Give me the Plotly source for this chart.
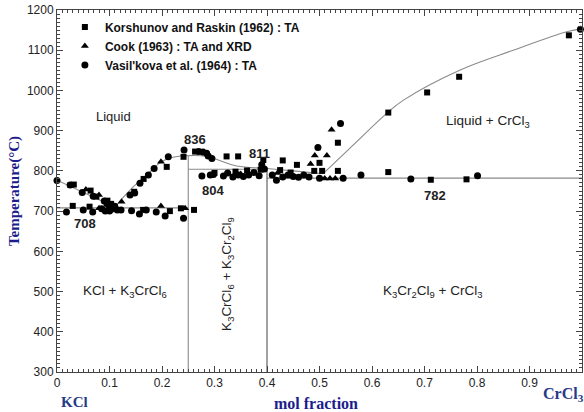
import plotly.graph_objects as go

# ---------------- data ----------------
# Korshunov and Raskin (1962) : TA  (squares)
kr_x = [0.026, 0.032, 0.064, 0.075, 0.096, 0.103, 0.147, 0.165, 0.209, 0.241, 0.263,
        0.323, 0.345, 0.393, 0.430, 0.457, 0.500, 0.535, 0.631, 0.705, 0.766, 0.975,
        0.030, 0.062, 0.164, 0.215, 0.236, 0.261,
        0.300, 0.340, 0.362, 0.388, 0.425, 0.445, 0.490, 0.505, 0.535, 0.631, 0.712, 0.780]
kr_t = [765, 766, 751, 736, 726, 718, 748, 780, 810, 835, 848,
        836, 836, 827, 826, 815, 820, 870, 945, 995, 1034, 1137,
        713, 711, 703, 700, 707, 703,
        795, 798, 801, 803, 802, 796, 800, 800, 800, 797, 778, 779]

# Cook (1963) : TA and XRD  (triangles)
ck_x = [0.055, 0.080, 0.080, 0.123, 0.198, 0.198, 0.244, 0.350, 0.420, 0.483,
        0.491, 0.514, 0.523, 0.470, 0.510, 0.520, 0.530]
ck_t = [754, 740, 707, 723, 823, 713, 707, 792, 795, 817,
        838, 838, 902, 790, 781, 781, 781]

# Vasil'kova et al. (1964) : TA  (circles)
vk_x = [0.000, 0.025, 0.048, 0.069, 0.090, 0.095, 0.100, 0.105, 0.110, 0.139, 0.148,
        0.158, 0.174, 0.185, 0.212, 0.242, 0.270, 0.278, 0.285, 0.288, 0.295,
        0.018, 0.050, 0.068, 0.085, 0.092, 0.100, 0.115, 0.122, 0.142, 0.157, 0.170,
        0.189, 0.206, 0.241,
        0.276, 0.292, 0.298,
        0.317, 0.325, 0.335, 0.345, 0.355, 0.365, 0.375, 0.385, 0.390, 0.395, 0.410,
        0.418, 0.430, 0.440, 0.450, 0.460, 0.470, 0.480, 0.497, 0.500, 0.545, 0.540,
        0.579, 0.674, 0.801, 0.997]
vk_t = [776, 765, 746, 737, 725, 718, 712, 705, 712, 740, 745,
        769, 790, 806, 835, 852, 848, 847, 844, 837, 831,
        698, 703, 698, 706, 700, 700, 703, 703, 701, 693, 703,
        698, 688, 682,
        787, 790, 791,
        787, 795, 785, 790, 786, 790, 796, 788, 815, 805, 790,
        777, 785, 790, 786, 784, 790, 785, 858, 782, 782, 918,
        790, 780, 788, 1152]

# phase-boundary curves
liq1_x = [0.000, 0.110]
liq1_t = [777, 710]
liq2_x = [0.110, 0.145, 0.175, 0.196, 0.215, 0.235, 0.250]
liq2_t = [710, 760, 795, 820, 832, 837, 838]
liq3_x = [0.250, 0.285, 0.342, 0.400, 0.450, 0.507]
liq3_t = [838, 836, 812, 806, 800, 793]
liq4_x = [0.507, 0.564, 0.628, 0.660, 0.768, 0.869, 0.971, 1.000]
liq4_t = [793, 864, 943, 976, 1051, 1100, 1146, 1153]

iso708_x = [0.0, 0.25]; iso708_t = [708, 708]
iso804_x = [0.25, 0.40]; iso804_t = [804, 804]
iso782_x = [0.40, 1.00]; iso782_t = [782, 782]
v25_x = [0.25, 0.25]; v25_t = [300, 838]
v40_x = [0.40, 0.40]; v40_t = [300, 804]

x_ticks = [0, 0.1, 0.2, 0.3, 0.4, 0.5, 0.6, 0.7, 0.8, 0.9, 1]
x_tick_labels = ["0", "0.1", "0.2", "0.3", "0.4", "0.5", "0.6", "0.7", "0.8", "0.9", "1"]
y_ticks = [300, 400, 500, 600, 700, 800, 900, 1000, 1100, 1200]

# ---------------- figure ----------------
fig = go.Figure()
LINE = dict(color="#8a8a8a", width=1.1)
for xs, ts, shape in [(liq1_x, liq1_t, "linear"), (liq2_x, liq2_t, "spline"),
                      (liq3_x, liq3_t, "spline"), (liq4_x, liq4_t, "spline")]:
    fig.add_trace(go.Scatter(x=xs, y=ts, mode="lines", line=dict(LINE, shape=shape),
                             showlegend=False, hoverinfo="skip"))
for xs, ts, col in [(iso708_x, iso708_t, "#8a8a8a"), (iso804_x, iso804_t, "#8a8a8a"),
                    (iso782_x, iso782_t, "#8a8a8a"), (v25_x, v25_t, "#8a8a8a"),
                    (v40_x, v40_t, "#555555")]:
    fig.add_trace(go.Scatter(x=xs, y=ts, mode="lines", line=dict(color=col, width=1.1),
                             showlegend=False, hoverinfo="skip"))

fig.add_trace(go.Scatter(x=kr_x, y=kr_t, mode="markers", name="Korshunov and Raskin (1962) : TA",
                         marker=dict(symbol="square", size=6, color="black"), cliponaxis=False))
fig.add_trace(go.Scatter(x=ck_x, y=ck_t, mode="markers", name="Cook (1963) : TA and XRD",
                         marker=dict(symbol="triangle-up", size=7, color="black"), cliponaxis=False))
fig.add_trace(go.Scatter(x=vk_x, y=vk_t, mode="markers", name="Vasil'kova et al. (1964) : TA",
                         marker=dict(symbol="circle", size=7, color="black"), cliponaxis=False))

SANS = "Liberation Sans, Arial, sans-serif"
TXT = dict(family=SANS, size=13.5, color="#222222")
BOLD = dict(family=SANS, size=13, color="#222222", weight="bold")
ann = []
def add(text, x, y, font, **kw):
    ann.append(dict(text=text, x=x, y=y, xref="x", yref="y", showarrow=False, font=font, **kw))

add("Liquid", 0.108, 934, dict(TXT, size=13))
add("836", 0.263, 877, BOLD)
add("811", 0.385, 844, BOLD)
add("804", 0.297, 752, BOLD)
add("708", 0.053, 668, BOLD)
add("782", 0.720, 740, BOLD)
add("Liquid + CrCl<sub>3</sub>", 0.821, 924, TXT)
add("KCl + K<sub>3</sub>CrCl<sub>6</sub>", 0.129, 499, TXT)
add("K<sub>3</sub>Cr<sub>2</sub>Cl<sub>9</sub> + CrCl<sub>3</sub>", 0.716, 499, TXT)
add("K<sub>3</sub>CrCl<sub>6</sub> + K<sub>3</sub>Cr<sub>2</sub>Cl<sub>9</sub>", 0.325, 543, TXT, textangle=-90)

SERIF = "Liberation Serif, Times New Roman, serif"
ann.append(dict(text="KCl", x=0.034, y=-0.083, xref="x", yref="paper", yanchor="middle",
                showarrow=False, font=dict(family=SERIF, size=15, color="#263a86", weight="bold")))
ann.append(dict(text="CrCl<sub>3</sub>", x=0.964, y=-0.062, xref="x", yref="paper", yanchor="middle",
                showarrow=False, font=dict(family=SERIF, size=16, color="#263a86", weight="bold")))
ann.append(dict(text="mol fraction", x=0.493, y=-0.088, xref="x", yref="paper", yanchor="middle",
                showarrow=False, font=dict(family=SERIF, size=16, color="#1c1c8c", weight="bold")))

axis_common = dict(showline=True, linecolor="#444444", linewidth=1, mirror="allticks",
                   ticks="inside", ticklen=6, tickcolor="#444444", showgrid=False, zeroline=False,
                   tickfont=dict(family=SANS, size=12, color="#222222"))

fig.update_layout(
    width=584, height=412,
    margin=dict(l=57, r=2, t=10, b=40),
    paper_bgcolor="white", plot_bgcolor="white",
    annotations=ann,
    showlegend=True,
    legend=dict(x=0.015, y=0.993, xanchor="left", yanchor="top", bgcolor="rgba(0,0,0,0)",
                font=dict(family=SANS, size=12, color="#111111", weight="bold"),
                itemwidth=30, tracegroupgap=0),
    xaxis=dict(axis_common, range=[0, 1], tickvals=x_ticks, ticktext=x_tick_labels,
               minor=dict(dtick=0.01, ticks="inside", ticklen=3, tickcolor="#444444")),
    yaxis=dict(axis_common, range=[300, 1200], tickvals=y_ticks,
               minor=dict(dtick=10, ticks="inside", ticklen=3, tickcolor="#444444"),
               title=dict(text="Temperature(°C)", standoff=3,
                          font=dict(family=SERIF, size=15, color="#1c1c8c", weight="bold"))),
)

fig.write_html("out.html")
